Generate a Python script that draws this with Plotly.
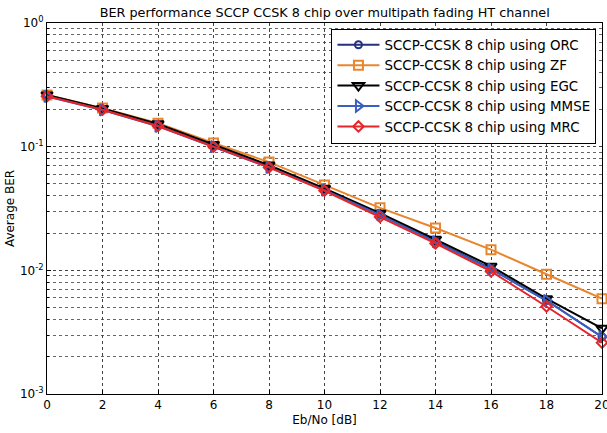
import plotly.graph_objects as go

ebno = [0, 2, 4, 6, 8, 10, 12, 14, 16, 18, 20]
ber_orc = [0.258, 0.200, 0.148, 0.101, 0.069, 0.045, 0.0285, 0.0172, 0.0103, 0.0057, 0.0029]
ber_zf = [0.262, 0.205, 0.155, 0.107, 0.075, 0.049, 0.032, 0.022, 0.0147, 0.0093, 0.0059]
ber_egc = [0.262, 0.204, 0.153, 0.104, 0.071, 0.046, 0.029, 0.0178, 0.0108, 0.0059, 0.0034]
ber_mmse = [0.255, 0.198, 0.146, 0.100, 0.068, 0.0445, 0.028, 0.017, 0.0102, 0.0057, 0.0029]
ber_mrc = [0.256, 0.199, 0.147, 0.100, 0.068, 0.044, 0.027, 0.0165, 0.0098, 0.0051, 0.0026]

names = ["SCCP-CCSK 8 chip using ORC", "SCCP-CCSK 8 chip using ZF",
         "SCCP-CCSK 8 chip using EGC", "SCCP-CCSK 8 chip using MMSE",
         "SCCP-CCSK 8 chip using MRC"]
series = [ber_orc, ber_zf, ber_egc, ber_mmse, ber_mrc]
colors = ["#25307e", "#e8862e", "#000000", "#3a5fc0", "#e3262a"]
symbols = ["circle-open", "square-open", "triangle-down-open", "triangle-right-open", "diamond-open"]
sizes = [7, 9, 10, 10, 8]

fig = go.Figure()
for n, s, c, sym, sz in zip(names, series, colors, symbols, sizes):
    fig.add_trace(go.Scatter(
        x=ebno, y=s, name=n, mode="lines+markers",
        line=dict(color=c, width=2),
        marker=dict(symbol=sym, size=sz, color=c, line=dict(width=2, color=c)),
        cliponaxis=False,
    ))

font = "DejaVu Sans, Liberation Sans, Arial, sans-serif"
fig.update_layout(
    width=607, height=433,
    margin=dict(l=47, r=5, t=23, b=39, autoexpand=False),
    paper_bgcolor="white", plot_bgcolor="white",
    font=dict(family=font, size=11.5, color="black"),
    title=dict(text="BER performance SCCP CCSK 8 chip over multipath fading HT channel",
               x=0.535, xanchor="center", y=0.982, yanchor="top",
               font=dict(size=12.8, family=font)),
    showlegend=True,
    legend=dict(x=0.99, xanchor="right", y=0.985, yanchor="top",
                bordercolor="black", borderwidth=1, bgcolor="white",
                font=dict(size=13.4, family=font), tracegroupgap=0,
                itemwidth=42),
)
fig.update_xaxes(
    title=dict(text="Eb/No [dB]", standoff=4, font=dict(size=12)),
    range=[0, 20], tickvals=ebno, ticks="inside", ticklen=4, tickcolor="black",
    showline=True, linecolor="black", linewidth=1, mirror=True,
    showgrid=True, gridcolor="#444", griddash="dot", gridwidth=1,
    zeroline=False, tickfont=dict(size=12), automargin=False,
    ticklabeloverflow="allow",
)
fig.update_yaxes(
    title=dict(text="Average BER", standoff=2, font=dict(size=12)),
    type="log", range=[-3, 0],
    tickvals=[0.001, 0.01, 0.1, 1],
    ticktext=["10<sup>-3</sup>", "10<sup>-2</sup>", "10<sup>-1</sup>", "10<sup>0</sup>"],
    ticks="inside", ticklen=4, tickcolor="black",
    showline=True, linecolor="black", linewidth=1, mirror=True,
    showgrid=True, gridcolor="#444", griddash="dot", gridwidth=1,
    minor=dict(dtick="D1", showgrid=True, gridcolor="#666", griddash="dot",
               gridwidth=1, ticks="inside", ticklen=2, tickcolor="black"),
    zeroline=False, tickfont=dict(size=12), automargin=False,
    ticklabeloverflow="allow",
)

fig.write_html("out.html", config={"displayModeBar": False},
               post_script="document.body.style.margin='0';document.body.style.padding='0';")
